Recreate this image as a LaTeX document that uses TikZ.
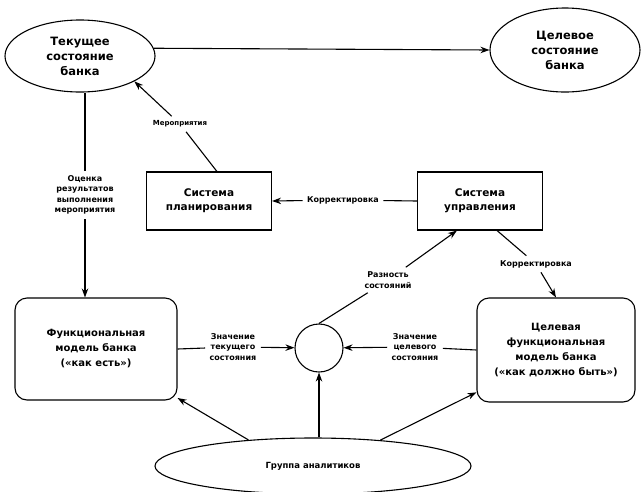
\documentclass[tikz,border=0pt]{standalone}
\usepackage{fontspec}
\setmainfont{DejaVu Sans}
\usetikzlibrary{arrows.meta,shapes.geometric,positioning}

\begin{document}
\begin{tikzpicture}
    [->,>={Stealth[length=9pt,width=6.5pt]},x=1pt,y=-1pt,line width=1.1pt,
        state node/.style={ellipse,draw,align=center,inner sep=2pt,font=\fontsize{11.5}{15}\selectfont\bfseries},
        sys node/.style={rectangle,draw,align=center,minimum width=125pt,minimum height=58pt,font=\fontsize{10.5}{14}\selectfont\bfseries},
        model node/.style={rectangle,rounded corners=12pt,draw,align=center,font=\fontsize{10}{15}\selectfont\bfseries},
        flow label/.style={align=center,inner sep=4pt,font=\fontsize{8}{10.5}\selectfont\bfseries}]

    \useasboundingbox (0,0) rectangle (643,491);

    \node[state node,minimum width=150pt,minimum height=72pt] (cur) at (80,56) {Текущее\\состояние\\банка};
    \node[state node,minimum width=150pt,minimum height=84pt] (tgt) at (565,50) {Целевое\\состояние\\банка};
    \node[sys node] (plan) at (209,201) {Система\\планирования};
    \node[sys node] (ctrl) at (480,201) {Система\\управления};
    \node[model node,minimum width=162pt,minimum height=102pt] (func) at (96,349) {Функциональная\\модель банка\\(«как есть»)};
    \node[model node,minimum width=158pt,minimum height=104pt] (tfunc) at (556,350) {Целевая\\функциональная\\модель банка\\(«как должно быть»)};
    \node[circle,draw,minimum size=48pt] (sum) at (319,348) {};
    \node[state node,minimum width=316pt,minimum height=56pt,font=\fontsize{8.5}{11}\selectfont\bfseries] (grp) at (313,466) {Группа аналитиков};

    % labels on the connectors
    \node[flow label,font=\fontsize{7}{9}\selectfont\bfseries] (lblMer) at (180,124) {Мероприятия};
    \node[flow label] (lblOc) at (85,195) {Оценка\\результатов\\выполнения\\мероприятия};
    \node[flow label] (lblKor1) at (343,200) {Корректировка};
    \node[flow label] (lblCur) at (233,347) {Значение\\текущего\\состояния};
    \node[flow label] (lblTgt) at (415,347) {Значение\\целевого\\состояния};
    \node[flow label] (lblDiff) at (388,280) {Разность\\состояний};
    \node[flow label] (lblKor2) at (536,264) {Корректировка};

    \path[]
    (cur.6)              edge          (tgt.west)
    (cur.south -| lblOc) edge [-]      (lblOc)
    (lblOc)              edge          (lblOc |- func.north)
    (plan.75)            edge [-]      (lblMer)
    (lblMer)             edge          (cur.335)
    (ctrl.west)          edge [-]      (lblKor1)
    (lblKor1)            edge          (plan.east)
    (func.east)          edge [-]      (lblCur)
    (lblCur)             edge          (sum)
    (tfunc.west)         edge [-]      (lblTgt)
    (lblTgt)             edge          (sum)
    (sum.north)          edge [-]      (lblDiff)
    (lblDiff)            edge          (ctrl.232)
    (ctrl.300)           edge [-]      (lblKor2)
    (lblKor2)            edge          (tfunc.north)
    (grp.158)            edge          (func.329)
    (sum |- grp.north)   edge          (sum.south)
    (grp.21)             edge          (tfunc.208)
    ;
\end{tikzpicture}
\end{document}
